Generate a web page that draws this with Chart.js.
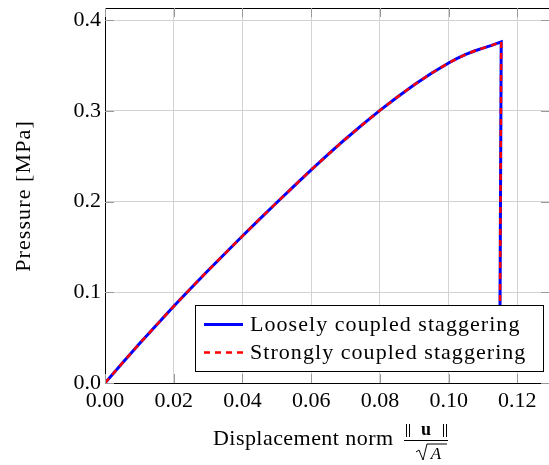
<!DOCTYPE html>
<html>
<head>
<meta charset="utf-8">
<script src="https://cdn.jsdelivr.net/npm/chart.js@4/dist/chart.umd.min.js"></script>
<style>
html,body{margin:0;padding:0;background:#fff;overflow:hidden;}
#wrap{width:549px;height:465px;position:relative;overflow:hidden;}
</style>
</head>
<body>
<div id="wrap"><canvas id="c" width="552" height="465"></canvas></div>
<script>
// ---- data ----
const displacement = [0, 0.005, 0.01, 0.015, 0.02, 0.025, 0.03, 0.035, 0.04, 0.045, 0.05, 0.055, 0.06, 0.065, 0.07, 0.075, 0.08, 0.085, 0.09, 0.095, 0.10, 0.1025, 0.105, 0.1075, 0.11, 0.1125, 0.1153, 0.1149];
const looselyCoupled = [0, 0.0218, 0.0433, 0.064, 0.0845, 0.1045, 0.124, 0.143, 0.162, 0.1807, 0.199, 0.217, 0.235, 0.2522, 0.269, 0.285, 0.3005, 0.315, 0.3288, 0.3415, 0.3528, 0.3578, 0.3622, 0.3660, 0.3692, 0.3722, 0.376, 0.04];
const stronglyCoupled = [0, 0.0218, 0.0433, 0.064, 0.0845, 0.1045, 0.124, 0.143, 0.162, 0.1807, 0.199, 0.217, 0.235, 0.2522, 0.269, 0.285, 0.3005, 0.315, 0.3288, 0.3415, 0.3528, 0.3578, 0.3622, 0.3660, 0.3692, 0.3722, 0.376, 0.04];
const seriesLabels = ['Loosely coupled staggering', 'Strongly coupled staggering'];
const xTicks = [0, 0.02, 0.04, 0.06, 0.08, 0.10, 0.12];
const yTicks = [0, 0.1, 0.2, 0.3, 0.4];
const xTitle = 'Displacement norm';
const yTitle = 'Pressure [MPa]';

const FONT = '"Liberation Serif", "DejaVu Serif", serif';
const toPts = (ys) => displacement.map((x, i) => ({x: x, y: ys[i]}));

const boxPlugin = {
  id: 'box',
  afterDraw(chart) {
    const {ctx, chartArea: a} = chart;
    ctx.save();
    ctx.strokeStyle = '#000';
    ctx.lineWidth = 1;
    ctx.strokeRect(a.left + 0.5, a.top + 0.5, a.right - a.left, a.bottom - a.top);
    // inner tick marks
    ctx.strokeStyle = '#999';
    const xs = chart.scales.x, ys = chart.scales.y;
    xTicks.forEach(v => {
      const px = Math.round(xs.getPixelForValue(v)) + 0.5;
      ctx.beginPath(); ctx.moveTo(px, a.bottom); ctx.lineTo(px, a.bottom - 9); ctx.stroke();
      ctx.beginPath(); ctx.moveTo(px, a.top); ctx.lineTo(px, a.top + 9); ctx.stroke();
    });
    yTicks.forEach(v => {
      const py = Math.round(ys.getPixelForValue(v)) + 0.5;
      ctx.beginPath(); ctx.moveTo(a.left, py); ctx.lineTo(a.left + 9, py); ctx.stroke();
      ctx.beginPath(); ctx.moveTo(a.right, py); ctx.lineTo(a.right - 9, py); ctx.stroke();
    });
    // legend
    const lx = 195.5, ly = 305.5, lw = 348, lh = 66;
    ctx.fillStyle = '#fff';
    ctx.fillRect(lx, ly, lw, lh);
    ctx.strokeStyle = '#000';
    ctx.strokeRect(lx, ly, lw, lh);
    const legendOrder = [1, 0];
    legendOrder.forEach((di, i) => {
      const ds = chart.data.datasets[di];
      const cy = ly + 19 + i * 28;
      ctx.save();
      ctx.strokeStyle = ds.borderColor;
      ctx.lineWidth = ds.borderWidth;
      ctx.setLineDash(ds.borderDash || []);
      ctx.beginPath(); ctx.moveTo(204, cy); ctx.lineTo(243, cy); ctx.stroke();
      ctx.restore();
      ctx.fillStyle = '#000';
      ctx.font = '22px ' + FONT;
      ctx.letterSpacing = '1.05px';
      ctx.textBaseline = 'middle';
      ctx.fillText(ds.label, 250, cy + 1);
    });
    // y title
    ctx.save();
    ctx.translate(24, 196);
    ctx.rotate(-Math.PI / 2);
    ctx.textAlign = 'center';
    ctx.textBaseline = 'middle';
    ctx.font = '22px ' + FONT;
    ctx.letterSpacing = '1.1px';
    ctx.fillStyle = '#000';
    ctx.fillText(yTitle, 0, 0);
    ctx.restore();
    // x title
    ctx.font = '22px ' + FONT;
    ctx.letterSpacing = '0.45px';
    ctx.fillStyle = '#000';
    ctx.textBaseline = 'alphabetic';
    ctx.textAlign = 'left';
    ctx.fillText(xTitle, 213, 445);
    ctx.letterSpacing = '0px';
    // fraction ||u|| / sqrt(A)
    const fc = 426;
    ctx.strokeStyle = '#000';
    ctx.lineWidth = 1;
    [-20, -17, 17, 20].forEach(dx => {
      ctx.beginPath(); ctx.moveTo(fc + dx + 0.5, 424); ctx.lineTo(fc + dx + 0.5, 437); ctx.stroke();
    });
    ctx.font = 'bold 18px ' + FONT;
    ctx.textAlign = 'center';
    ctx.fillText('u', fc, 435);
    ctx.beginPath();
    ctx.moveTo(fc - 22, 440.5); ctx.lineTo(fc + 22, 440.5); ctx.stroke();
    ctx.font = 'italic 17px ' + FONT;
    ctx.fillText('A', fc + 10, 459);
    // radical sign
    ctx.beginPath();
    ctx.moveTo(fc - 10, 452); ctx.lineTo(fc - 7, 450); ctx.lineTo(fc - 3, 460); ctx.lineTo(fc + 1, 444); ctx.lineTo(fc + 21, 444);
    ctx.stroke();
    ctx.restore();
  }
};

new Chart(document.getElementById('c'), {
  type: 'scatter',
  data: {
    datasets: [
      {label: seriesLabels[1], data: toPts(stronglyCoupled), showLine: true, borderColor: '#ff0000', borderWidth: 2.5, borderDash: [6, 5], pointRadius: 0, tension: 0, fill: false},
      {label: seriesLabels[0], data: toPts(looselyCoupled), showLine: true, borderColor: '#0000ff', borderWidth: 3, pointRadius: 0, tension: 0, fill: false}
    ]
  },
  options: {
    responsive: false,
    animation: false,
    layout: {padding: {top: 8, right: 0, left: 0, bottom: 0}},
    plugins: {legend: {display: false}, tooltip: {enabled: false}},
    scales: {
      x: {
        type: 'linear', min: 0, max: 0.1295,
        afterBuildTicks: (s) => { s.ticks = xTicks.map(v => ({value: v})); },
        afterFit: (s) => { s.height = 82; s.paddingLeft = 0; s.paddingRight = 2; },
        grid: {color: '#d3d3d3', lineWidth: 1, drawTicks: false},
        border: {color: '#000', width: 1},
        ticks: {color: '#000', font: {family: FONT, size: 22}, padding: 5, maxRotation: 0,
          callback: (v) => Number(v).toFixed(2)}
      },
      y: {
        type: 'linear', min: 0, max: 0.4134,
        afterBuildTicks: (s) => { s.ticks = yTicks.map(v => ({value: v})); },
        afterFit: (s) => { s.width = 105; s.paddingTop = 0; s.paddingBottom = 0; },
        grid: {color: '#d3d3d3', lineWidth: 1, drawTicks: false},
        border: {color: '#000', width: 1},
        ticks: {color: '#000', font: {family: FONT, size: 22}, padding: 4,
          callback: (v) => Number(v).toFixed(1)}
      }
    }
  },
  plugins: [boxPlugin]
});
</script>
</body>
</html>
